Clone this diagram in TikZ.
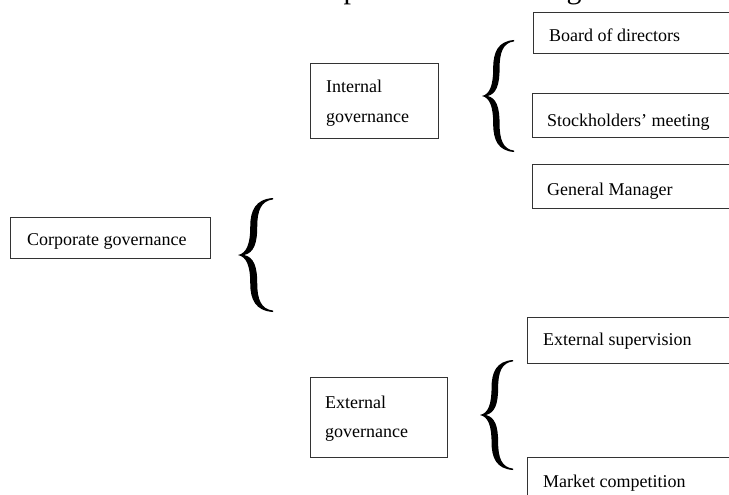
\documentclass[tikz,border=0pt]{standalone}
\usepackage{fontspec}
\setmainfont{Liberation Serif}
\begin{document}
\begin{tikzpicture}[x=1pt,y=-1pt,
  box/.style={draw=black!80, line width=0.9pt, inner sep=0pt, anchor=north west},
  lbl/.style={anchor=base west, inner sep=0pt, font=\fontsize{18}{20}\selectfont},
  brace/.pic={\fill[black] (1,-1) .. controls (0.5,-0.98) and (0.35,-0.78) .. (0.35,-0.5)
      .. controls (0.35,-0.2) and (0.25,-0.03) .. (0,0)
      .. controls (0.25,0.03) and (0.35,0.2) .. (0.35,0.5)
      .. controls (0.35,0.78) and (0.5,0.98) .. (1,1)
      -- (1,0.975)
      .. controls (0.66,0.95) and (0.55,0.78) .. (0.55,0.5)
      .. controls (0.55,0.2) and (0.45,0.04) .. (0.18,0)
      .. controls (0.45,-0.04) and (0.55,-0.2) .. (0.55,-0.5)
      .. controls (0.55,-0.78) and (0.66,-0.95) .. (1,-0.975) -- cycle;}]
\useasboundingbox (0,0) rectangle (729,495);
\begin{scope}
\clip (0,0) rectangle (729,495);
% clipped running text at the top
\node[anchor=base west, inner sep=0pt, font=\fontsize{30}{32}\selectfont] (toptext) at (-54,-1.5) {\spaceskip=16.5pt balances as well as mutual supervision. See Figure 1-1};
\end{scope}
% boxes
\node[box, minimum width=200pt, minimum height=41pt] (corp) at (10,217) {};
\node[box, minimum width=128pt, minimum height=75pt] (intg) at (310,63) {};
\node[box, minimum width=137pt, minimum height=80pt] (extg) at (310,377) {};
\begin{scope}
\clip (0,0) rectangle (729,495);
\node[box, minimum width=220pt, minimum height=41pt] (bod) at (533,12) {};
\node[box, minimum width=220pt, minimum height=44pt] (stk) at (532,93) {};
\node[box, minimum width=220pt, minimum height=44pt] (gm) at (532,164) {};
\node[box, minimum width=220pt, minimum height=46pt] (exs) at (527,317) {};
\node[box, minimum width=220pt, minimum height=60pt] (mkt) at (527,457) {};
\end{scope}
% labels
\node[lbl] (corpT) at (27,245) {Corporate governance};
\node[lbl] (intgT1) at (326,93) {Internal};
\node[lbl] (intgT2) at (326,122) {governance};
\node[lbl] (extgT1) at (325,408) {External};
\node[lbl] (extgT2) at (325,437) {governance};
\node[lbl] (bodT) at (549,42) {Board of directors};
\node[lbl] (stkT) at (547,127) {Stockholders’ meeting};
\node[lbl] (gmT) at (547,195) {General Manager};
\node[lbl] (exsT) at (543,345) {External supervision};
\node[lbl] (mktT) at (543,487) {Market competition};
% braces
\pic[xscale=35, yscale=57] at (238,255) {brace};
\pic[xscale=32, yscale=56] at (482,96) {brace};
\pic[xscale=33, yscale=55] at (480,415) {brace};
\end{tikzpicture}
\end{document}
